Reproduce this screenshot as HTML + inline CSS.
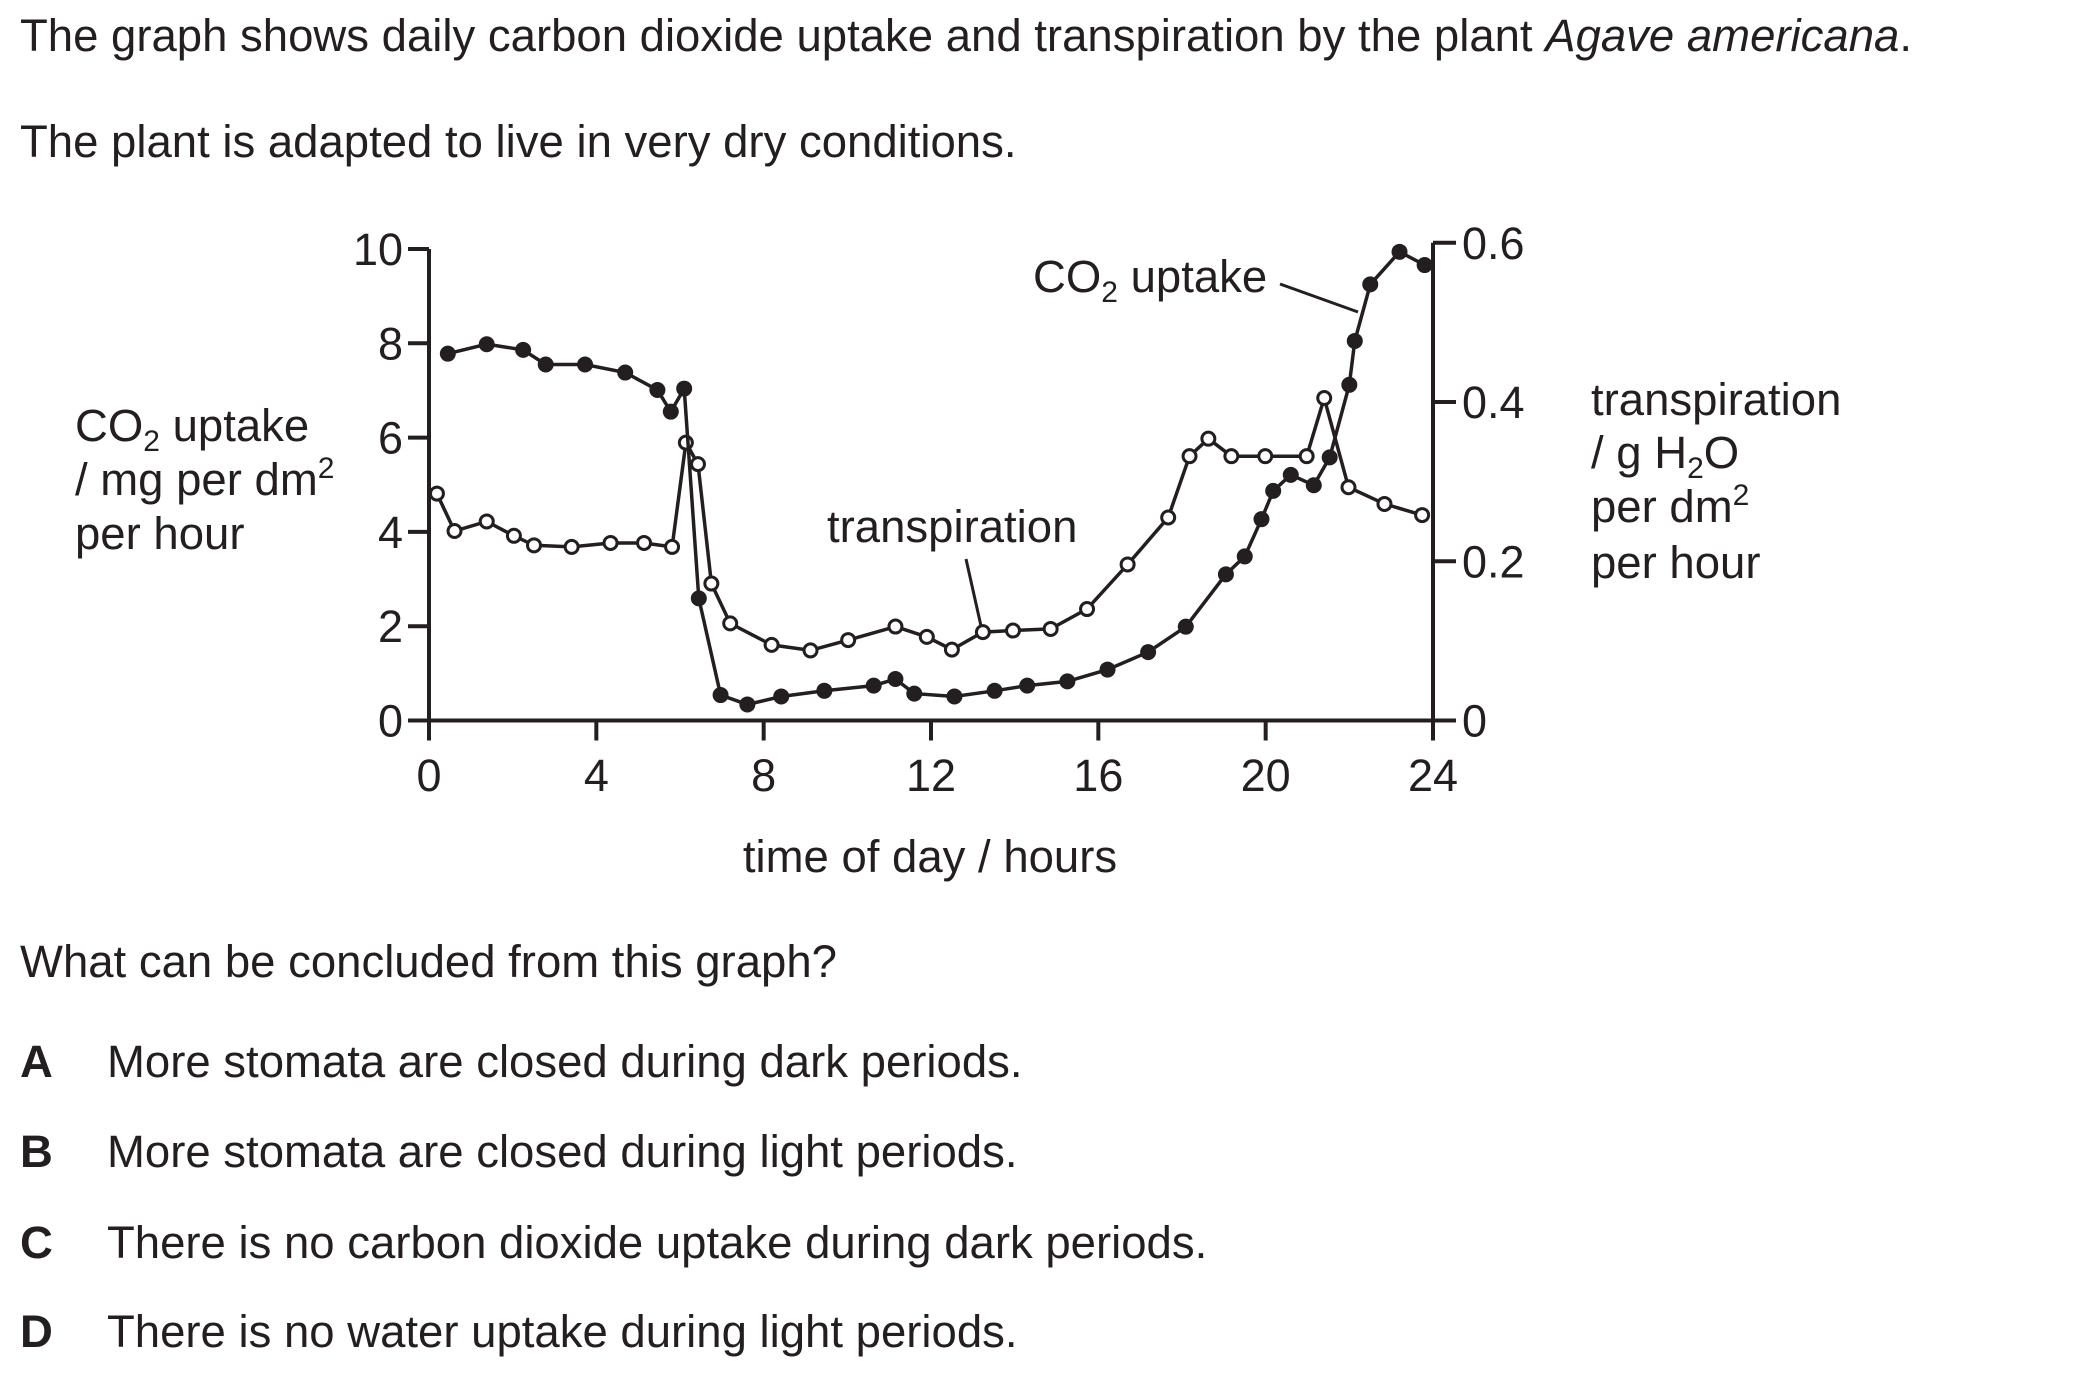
<!DOCTYPE html>
<html><head><meta charset="utf-8"><style>
html,body{margin:0;padding:0;background:#fff;}
svg{display:block;}
text{font-family:"Liberation Sans",Arial,sans-serif;fill:#231f20;}
</style></head><body>
<svg id="chart" width="2100" height="1376" viewBox="0 0 2100 1376" xmlns="http://www.w3.org/2000/svg">
<text x="20" y="51" font-size="45.5">The graph shows daily carbon dioxide uptake and transpiration by the plant <tspan font-style="italic">Agave americana</tspan>.</text>
<text x="20" y="157" font-size="45.5">The plant is adapted to live in very dry conditions.</text>

<g font-size="45.5">
<text x="75" y="441">CO<tspan font-size="30" dy="10">2</tspan><tspan dy="-10"> uptake</tspan></text>
<text x="75" y="495">/ mg per dm<tspan font-size="30" dy="-17">2</tspan></text>
<text x="75" y="549">per hour</text>
</g>
<g font-size="45.5">
<text x="1591" y="415">transpiration</text>
<text x="1591" y="468">/ g H<tspan font-size="30" dy="10">2</tspan><tspan dy="-10">O</tspan></text>
<text x="1591" y="522">per dm<tspan font-size="30" dy="-17">2</tspan></text>
<text x="1591" y="578">per hour</text>
</g>
<text x="930" y="872" font-size="45.5" text-anchor="middle">time of day / hours</text>

<g id="axes" stroke="#231f20" stroke-width="4" fill="none"></g>
<g id="ticklabels" font-size="45"></g>
<g id="series"></g>

<g>
<text x="1033" y="292" font-size="45.5">CO<tspan font-size="30" dy="10">2</tspan><tspan dy="-10"> uptake</tspan></text>
<line x1="1280" y1="284" x2="1358" y2="312" stroke="#231f20" stroke-width="3"/>
</g>
<g>
<text x="827" y="542" font-size="45.5">transpiration</text>
<line x1="966" y1="559" x2="981" y2="626" stroke="#231f20" stroke-width="3"/>
</g>

<text x="20" y="977" font-size="45.5">What can be concluded from this graph?</text>
<g font-size="45.5"><text x="20" y="1077" font-weight="bold">A</text><text x="107" y="1077">More stomata are closed during dark periods.</text></g>
<g font-size="45.5"><text x="20" y="1167" font-weight="bold">B</text><text x="107" y="1167">More stomata are closed during light periods.</text></g>
<g font-size="45.5"><text x="20" y="1258" font-weight="bold">C</text><text x="107" y="1258">There is no carbon dioxide uptake during dark periods.</text></g>
<g font-size="45.5"><text x="20" y="1347" font-weight="bold">D</text><text x="107" y="1347">There is no water uptake during light periods.</text></g>
</svg>
<script>
const co2Hours = [0.45,1.38,2.25,2.79,3.73,4.69,5.46,5.78,6.10,6.45,6.97,7.61,8.42,9.45,10.63,11.15,11.6,12.56,13.52,14.3,15.26,16.22,17.19,18.09,19.05,19.5,19.9,20.18,20.6,21.15,21.53,22.0,22.13,22.5,23.2,23.8];
const co2Values = [7.78,7.98,7.86,7.55,7.55,7.38,7.01,6.55,7.04,2.59,0.54,0.34,0.51,0.63,0.74,0.88,0.57,0.51,0.63,0.74,0.83,1.08,1.45,1.99,3.1,3.48,4.27,4.87,5.21,4.99,5.58,7.12,8.05,9.25,9.94,9.66];
const trHours = [0.19,0.61,1.38,2.03,2.51,3.41,4.34,5.14,5.81,6.14,6.43,6.75,7.2,8.19,9.12,10.02,11.15,11.9,12.5,13.24,13.96,14.86,15.73,16.7,17.67,18.18,18.63,19.18,19.99,20.98,21.4,21.98,22.84,23.74];
const trValues = [0.285,0.238,0.25,0.232,0.22,0.218,0.223,0.223,0.218,0.349,0.322,0.172,0.122,0.095,0.088,0.101,0.118,0.105,0.089,0.111,0.113,0.115,0.14,0.196,0.255,0.332,0.354,0.332,0.332,0.332,0.405,0.293,0.272,0.258];
const xTicks = [0,4,8,12,16,20,24];
const leftTicks = [0,2,4,6,8,10];
const rightTicks = [0,0.2,0.4,0.6];
const rightTickLabels = ["0","0.2","0.4","0.6"];

const NS = "http://www.w3.org/2000/svg";
const X0 = 429, X1 = 1433, Y0 = 720.5, YL10 = 249, YR06 = 242.8;
const xs = h => X0 + (X1 - X0) * h / 24;
const yl = v => Y0 - (Y0 - YL10) * v / 10;
const yr = v => Y0 - (Y0 - YR06) * v / 0.6;
function mk(tag, attrs, parent) {
  const e = document.createElementNS(NS, tag);
  for (const k in attrs) e.setAttribute(k, attrs[k]);
  parent.appendChild(e);
  return e;
}
const axes = document.getElementById('axes');
const tl = document.getElementById('ticklabels');
const series = document.getElementById('series');

let e = mk('line', {x1: 408, y1: Y0, x2: X1, y2: Y0}, axes);


e = mk('line', {x1: X0, y1: yl(10), x2: X0, y2: Y0 + 20}, axes);


e = mk('line', {x1: X1, y1: yr(0.6), x2: X1, y2: Y0 + 20}, axes);



xTicks.forEach(t => {
  const l = mk('line', {x1: xs(t), y1: Y0, x2: xs(t), y2: Y0 + 20}, axes);
  
  
  const tx = mk('text', {x: xs(t), y: 791, 'text-anchor': 'middle'}, tl);
  tx.textContent = String(t);
  
  
});
leftTicks.forEach(t => {
  const l = mk('line', {x1: 408, y1: yl(t), x2: X0, y2: yl(t)}, axes);
  
  
  const tx = mk('text', {x: 403, y: yl(t) + 16, 'text-anchor': 'end'}, tl);
  tx.textContent = String(t);
  
  
});
rightTicks.forEach((t, i) => {
  const l = mk('line', {x1: X1, y1: yr(t), x2: 1456, y2: yr(t)}, axes);
  
  
  const tx = mk('text', {x: 1462, y: yr(t) + 16}, tl);
  tx.textContent = rightTickLabels[i];
  
  
});

function drawSeries(hours, vals, yf, filled, name) {
  const g = mk('g', {}, series);
  
  
  const pts = hours.map((h, i) => xs(h).toFixed(1) + ',' + yf(vals[i]).toFixed(1)).join(' ');
  const pl = mk('polyline', {points: pts, fill: 'none', stroke: '#231f20', 'stroke-width': 3.5}, g);
  
  
  hours.forEach((h, i) => {
    const c = mk('circle', filled
      ? {cx: xs(h), cy: yf(vals[i]), r: 8, fill: '#231f20'}
      : {cx: xs(h), cy: yf(vals[i]), r: 6.5, fill: '#fff', stroke: '#231f20', 'stroke-width': 3}, g);
    
    
  });
}
drawSeries(trHours, trValues, yr, false, 'transpiration');
drawSeries(co2Hours, co2Values, yl, true, 'co2-uptake');
</script>
</body></html>
